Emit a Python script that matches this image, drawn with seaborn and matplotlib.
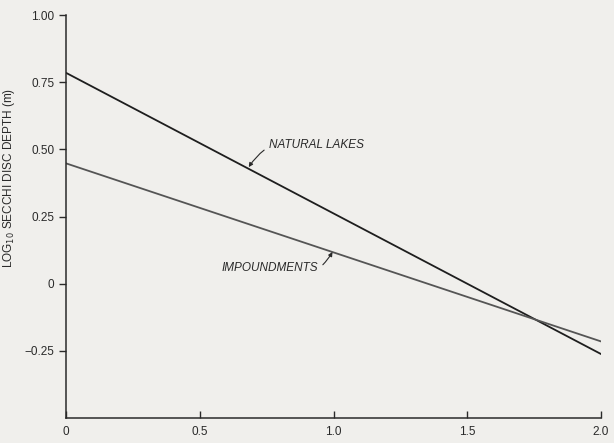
import matplotlib.pyplot as plt
import pandas as pd
import seaborn as sns


# end points of the two fitted lines
x_ends = [0.0, 2.0]
natural_lakes = [0.785, -0.262]
impoundments = [0.448, -0.215]

x_ticks = [0, 0.5, 1.0, 1.5, 2.0]
x_ticklabels = ['0', '0.5', '1.0', '1.5', '2.0']
y_ticks = [1.00, 0.75, 0.50, 0.25, 0, -0.25]
y_ticklabels = ['1.00', '0.75', '0.50', '0.25', '0', '\u22120.25']

PAPER = '#f0efec'
INK = '#2a2a2a'

sns.set_style('ticks')
plt.rcParams['font.family'] = ['Liberation Sans', 'DejaVu Sans']

df = pd.DataFrame({
    'x': x_ends * 2,
    'y': natural_lakes + impoundments,
    'group': ['Natural lakes'] * 2 + ['Impoundments'] * 2,
})

fig = plt.figure(figsize=(6.14, 4.43), dpi=100, facecolor=PAPER)
ax = fig.add_axes([0.1075, 0.0564, 0.8715, 0.9096], facecolor=PAPER)

sns.lineplot(
    data=df, x='x', y='y', hue='group', ax=ax,
    palette={'Natural lakes': '#1e1e1e', 'Impoundments': '#555555'},
    lw=1.3, legend=False
)

ax.set_xlim(0, 2.0)
ax.set_ylim(-0.5, 1.0)

ax.set_xticks(x_ticks)
ax.set_xticklabels(x_ticklabels)
ax.set_yticks(y_ticks)
ax.set_yticklabels(y_ticklabels)

ax.tick_params(axis='x', direction='in', length=5, width=1, colors=INK,
               labelsize=8.5, pad=6)
ax.tick_params(axis='y', direction='out', length=5, width=1, colors=INK,
               labelsize=8.5)

for side in ['top', 'right']:
    ax.spines[side].set_visible(False)
for side in ['left', 'bottom']:
    ax.spines[side].set_color(INK)
    ax.spines[side].set_linewidth(1.1)

ax.set_xlabel('')
ax.set_ylabel(r'LOG$_{10}$ SECCHI DISC DEPTH (m)', fontsize=8.5, color=INK)
ax.yaxis.set_label_coords(-0.092, 0.596)

ax.annotate(
    'NATURAL LAKES', xy=(0.683, 0.434), xytext=(0.757, 0.515),
    fontsize=8.5, style='italic', color=INK, va='center', ha='left',
    arrowprops=dict(arrowstyle='-|>', color=INK, lw=0.8,
                    mutation_scale=6, shrinkA=1, shrinkB=0,
                    connectionstyle='arc3,rad=0.4')
)
ax.annotate(
    'IMPOUNDMENTS', xy=(0.996, 0.118), xytext=(0.944, 0.06),
    fontsize=8.5, style='italic', color=INK, va='center', ha='right',
    arrowprops=dict(arrowstyle='-|>', color=INK, lw=0.8,
                    mutation_scale=6, shrinkA=1, shrinkB=0,
                    connectionstyle='arc3,rad=0.5')
)

fig.savefig('out.png', dpi=100, facecolor=PAPER)
